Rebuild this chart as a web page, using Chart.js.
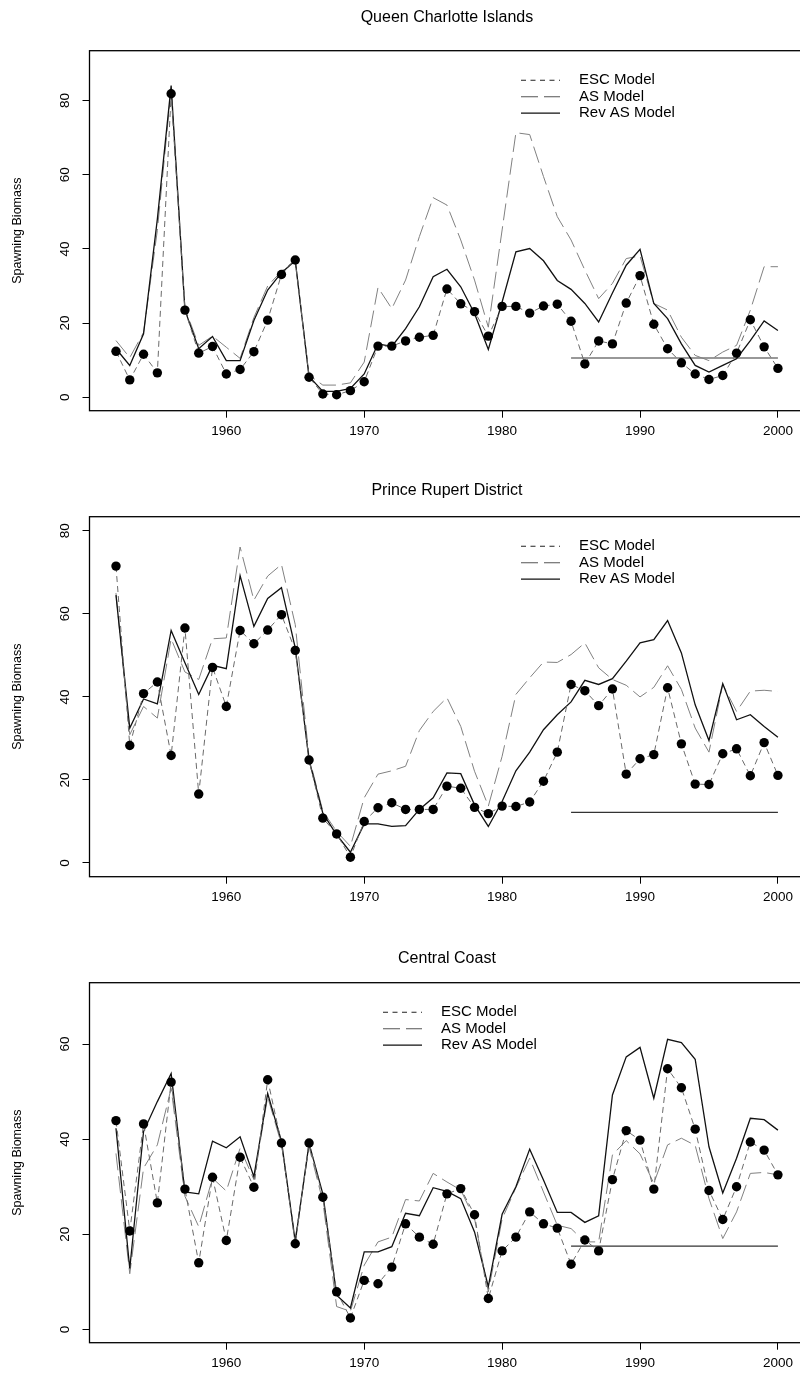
<!DOCTYPE html>
<html><head><meta charset="utf-8">
<script src="https://cdn.jsdelivr.net/npm/chart.js@4.4.0/dist/chart.umd.min.js"></script>
<style>
html,body{margin:0;padding:0;background:#fff;}
#wrap{position:relative;width:800px;height:1389px;overflow:hidden;background:#fff;}
.pc{position:absolute;left:0;}
</style></head><body>
<div id="wrap">
<canvas id="c1" class="pc" width="820" height="466" style="top:0px"></canvas>
<canvas id="c2" class="pc" width="820" height="466" style="top:466px"></canvas>
<canvas id="c3" class="pc" width="820" height="466" style="top:932px"></canvas>
</div>
<script>
// ---- data ----
const years = [1952,1953,1954,1955,1956,1957,1958,1959,1960,1961,1962,1963,1964,1965,1966,1967,
  1968,1969,1970,1971,1972,1973,1974,1975,1976,1977,1978,1979,1980,1981,1982,1983,1984,
  1985,1986,1987,1988,1989,1990,1991,1992,1993,1994,1995,1996,1997,1998,1999,2000];
const xTicks = [1960,1970,1980,1990,2000];
const seriesNames = ["ESC Model","AS Model","Rev AS Model"];

// Queen Charlotte Islands
const qciTitle = "Queen Charlotte Islands";
const qciESC = [12.4,4.7,11.6,6.6,81.8,23.5,11.9,13.7,6.3,7.5,12.3,20.8,33.1,37.0,5.4,0.9,
  0.7,1.8,4.2,13.8,13.8,15.2,16.2,16.7,29.2,25.2,23.1,16.5,24.5,24.5,22.7,24.6,25.1,
  20.5,9.0,15.2,14.4,25.4,32.8,19.7,13.1,9.3,6.3,4.8,5.9,11.9,20.9,13.6,7.8];
const qciAS = [15.3,10.7,17.5,45.0,83.0,24.0,14.0,16.5,13.5,10.5,21.5,30.0,34.0,37.0,6.0,3.3,
  3.3,3.9,9.5,29.6,23.9,31.6,43.3,53.8,51.8,42.4,31.6,18.9,45.1,71.3,70.8,59.5,48.7,
  42.4,34.3,26.6,30.7,37.4,38.1,25.3,23.5,16.2,11.3,9.9,12.2,14.0,23.5,35.2,35.2];
const qciRev = [13.1,8.6,17.1,48.0,84.0,23.5,13.1,16.4,9.9,9.9,20.7,28.9,33.6,36.8,5.6,1.6,
  1.6,2.4,6.3,14.4,13.7,18.5,24.4,32.5,34.5,29.8,22.6,12.9,25.7,39.2,40.1,36.8,31.5,
  29.1,25.3,20.3,28.1,35.6,39.9,25.3,21.2,14.4,8.6,6.8,8.6,10.4,15.3,20.6,18.0];
const qciRefYears = [1985,2000];
const qciRefLevel = 10.6;
const qciYTicks = [0,20,40,60,80];
const qciYRange = [-3.6,93.4];

// Prince Rupert District
const prdTitle = "Prince Rupert District";
const prdESC = [71.5,28.3,40.8,43.6,25.9,56.6,16.6,47.1,37.7,56.0,52.8,56.1,59.8,51.2,24.8,10.8,
  7.0,1.4,10.0,13.3,14.5,12.9,12.9,12.9,18.5,18.0,13.4,11.9,13.7,13.6,14.7,19.7,26.7,
  43.0,41.5,37.9,41.9,21.4,25.1,26.1,42.2,28.7,19.0,18.9,26.3,27.5,21.0,29.0,21.1];
const prdAS = [65.0,30.9,37.7,34.9,54.0,46.0,44.2,54.0,54.2,76.1,63.3,69.1,71.9,57.4,25.5,12.5,
  7.6,4.0,15.7,21.4,22.2,23.3,31.9,36.5,39.8,32.9,22.1,13.7,25.7,40.6,44.6,48.4,48.3,
  50.2,53.0,47.0,44.2,42.8,40.0,42.3,47.5,41.8,32.5,26.7,43.0,36.5,41.4,41.6,41.3];
const prdRev = [64.5,32.5,39.5,38.3,56.0,48.2,40.6,47.6,46.8,69.2,57.0,63.7,66.3,51.8,24.8,12.0,
  6.8,2.6,9.4,9.4,8.8,9.0,12.9,15.7,21.7,21.5,14.0,8.8,14.8,22.2,26.7,32.1,35.7,
  38.8,44.0,43.0,44.4,48.6,53.0,53.8,58.4,50.6,38.1,29.5,43.2,34.5,35.7,32.9,30.3];
const prdRefYears = [1985,2000];
const prdRefLevel = 12.2;
const prdYTicks = [0,20,40,60,80];
const prdYRange = [-3.3,83.4];

// Central Coast
const ccTitle = "Central Coast";
const ccESC = [43.9,20.7,43.2,26.6,52.0,29.5,14.0,32.0,18.7,36.2,29.9,52.5,39.2,18.0,39.2,27.8,
  7.9,2.4,10.3,9.6,13.1,22.2,19.4,17.9,28.5,29.6,24.1,6.5,16.5,19.4,24.7,22.2,21.3,
  13.7,18.8,16.5,31.5,41.8,39.8,29.5,54.8,50.8,42.1,29.2,23.1,30.0,39.4,37.7,32.5];
const ccAS = [37.0,11.7,33.9,38.8,50.7,28.0,21.6,31.8,29.1,38.1,31.5,48.9,38.9,19.0,38.4,26.9,
  4.8,3.8,13.5,18.4,19.4,27.3,27.0,32.8,31.0,29.3,23.3,7.9,23.2,29.8,36.0,28.9,21.9,
  21.2,18.4,18.4,36.7,39.7,36.9,30.7,38.8,40.2,38.7,27.5,19.1,24.7,32.8,33.0,32.5];
const ccRev = [42.3,12.8,41.6,47.9,53.8,28.9,28.5,39.6,38.2,40.5,32.1,49.6,39.6,18.4,39.1,28.5,
  7.2,4.5,16.3,16.3,17.4,24.4,23.9,29.8,29.0,27.5,20.5,9.0,24.2,30.0,37.9,31.4,24.6,
  24.6,22.5,23.9,49.3,57.3,59.3,48.6,61.0,60.3,56.8,38.4,28.7,36.0,44.4,44.1,41.9];
const ccRefYears = [1985,2000];
const ccRefLevel = 17.5;
const ccYTicks = [0,20,40,60];
const ccYRange = [-2.8,72.9];

// ---- drawing ----
const FONT = "'Liberation Sans', Arial, Helvetica, sans-serif";
const ESC_DASH = [6,4], AS_DASH = [17,6];
const ESC_COL = '#6a6a6a', AS_COL = '#808080', REV_COL = '#111';

function pts(vals){ return years.map((yr,i)=>({x:yr,y:vals[i]})); }

const framePlugin = {
  id:'frame',
  afterDraw(chart, args, opts){
    const ctx = chart.ctx, a = chart.chartArea;
    ctx.save();
    ctx.strokeStyle = '#000'; ctx.lineWidth = 1.3;
    ctx.strokeRect(a.left, a.top, a.right - a.left, a.bottom - a.top);
    // title
    ctx.fillStyle = '#000';
    ctx.font = '16px ' + FONT;
    ctx.textAlign = 'center'; ctx.textBaseline = 'middle';
    ctx.fillText(opts.title, (a.left + a.right)/2, opts.titleY);
    // y label
    ctx.save();
    ctx.translate(18, (a.top + a.bottom)/2);
    ctx.rotate(-Math.PI/2);
    ctx.font = '12.5px ' + FONT;
    ctx.fillText('Spawning Biomass', 0, 0);
    ctx.restore();
    // legend
    const styles = [[[5,4.5], '#222'],[AS_DASH, '#555'],[[], REV_COL]];
    const rows = [29.6, 46.0, 62.4];
    ctx.font = '15px ' + FONT;
    ctx.textAlign = 'left';
    seriesNames.forEach((nm,i)=>{
      const y = a.top + rows[i];
      ctx.beginPath();
      ctx.setLineDash(styles[i][0]);
      ctx.strokeStyle = styles[i][1];
      ctx.lineWidth = 1.1;
      ctx.moveTo(opts.legX, y); ctx.lineTo(opts.legX + 39, y);
      ctx.stroke();
      ctx.setLineDash([]);
      ctx.fillStyle = '#000';
      ctx.fillText(nm, opts.legX + 58, y);
    });
    ctx.restore();
  }
};

function makeChart(id, title, titleY, esc, as, rev, refYears, refLevel, yTicks, yRange, legX){
  const tickFont = {family: FONT, size: 13.5};
  new Chart(document.getElementById(id), {
    type:'line',
    data:{ datasets:[
      {label:seriesNames[0], data:pts(esc), borderColor:ESC_COL, borderWidth:1, borderDash:ESC_DASH,
       pointRadius:4.7, pointBackgroundColor:'#000', pointBorderColor:'#000', pointBorderWidth:0, tension:0, order:1},
      {label:seriesNames[1], data:pts(as), borderColor:AS_COL, borderWidth:1, borderDash:AS_DASH,
       pointRadius:0, tension:0, order:3},
      {label:seriesNames[2], data:pts(rev), borderColor:REV_COL, borderWidth:1.3,
       pointRadius:0, tension:0, order:2},
      {label:'ref', data:refYears.map(yr=>({x:yr, y:refLevel})), borderColor:'#333', borderWidth:1.2,
       pointRadius:0, tension:0, order:4}
    ]},
    options:{
      responsive:false, animation:false, events:[],
      layout:{padding:{top:50.7, right:15.6, left:0, bottom:0}},
      plugins:{legend:{display:false}, tooltip:{enabled:false},
        frame:{title:title, titleY:titleY, legX:legX}},
      scales:{
        x:{type:'linear', min:1950.08, max:2001.92,
          afterBuildTicks:s=>{ s.ticks = xTicks.map(v=>({value:v})); },
          afterFit:s=>{ s.height = 55.3; },
          grid:{display:true, drawOnChartArea:false, drawTicks:true, tickLength:7, color:'#000', lineWidth:1},
          border:{display:false},
          ticks:{color:'#000', font:tickFont, padding:5, maxRotation:0, autoSkip:false, callback:v=>String(v)}
        },
        y:{type:'linear', min:yRange[0], max:yRange[1],
          afterBuildTicks:s=>{ s.ticks = yTicks.map(v=>({value:v})); },
          afterFit:s=>{ s.width = 89.5; },
          grid:{display:true, drawOnChartArea:false, drawTicks:true, tickLength:7, color:'#000', lineWidth:1},
          border:{display:false},
          ticks:{color:'#000', font:tickFont, padding:10, minRotation:90, maxRotation:90, crossAlign:'center', autoSkip:false, callback:v=>String(v)}
        }
      }
    },
    plugins:[framePlugin]
  });
}

makeChart('c1', qciTitle, 18, qciESC, qciAS, qciRev, qciRefYears, qciRefLevel, qciYTicks, qciYRange, 521);
makeChart('c2', prdTitle, 25, prdESC, prdAS, prdRev, prdRefYears, prdRefLevel, prdYTicks, prdYRange, 521);
makeChart('c3', ccTitle, 27, ccESC, ccAS, ccRev, ccRefYears, ccRefLevel, ccYTicks, ccYRange, 383);
</script>
</body></html>
